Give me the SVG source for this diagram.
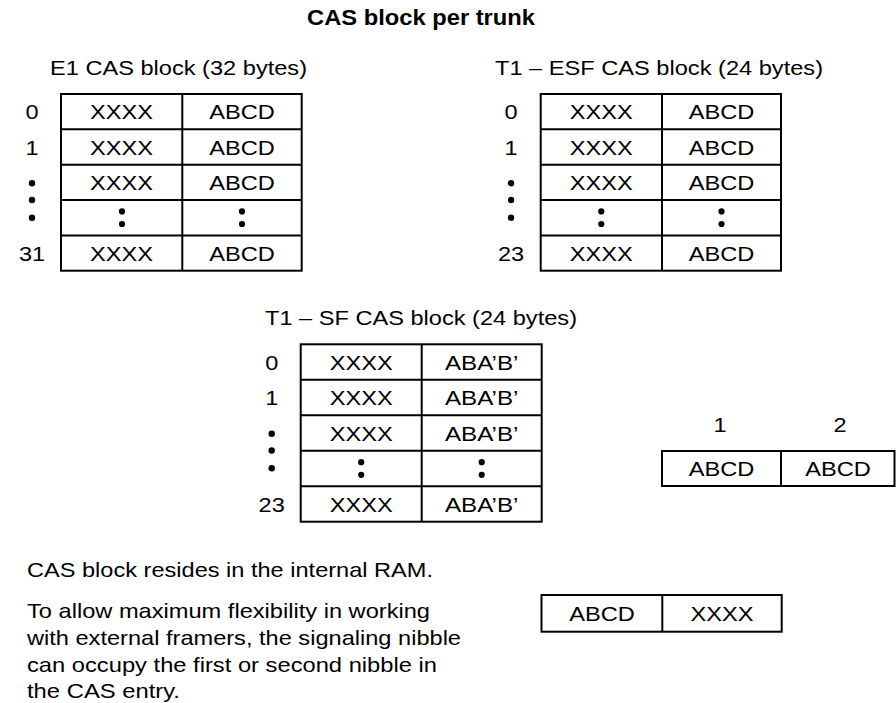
<svg xmlns="http://www.w3.org/2000/svg" width="896" height="703" viewBox="0 0 896 703">
<style>
text{font-family:"Liberation Sans",Arial,Helvetica,sans-serif;font-size:21px;fill:#000}
.t{font-weight:bold;font-size:22px}
.m{text-anchor:middle}
.box{fill:#fff;stroke:#000;stroke-width:2}
.ln{stroke:#000;stroke-width:2;fill:none}
.dot{fill:#000}
</style>
<defs>
<g id="dots3"><circle class="dot" cx="0" cy="-16.8" r="3.2"/><circle class="dot" cx="0" cy="0" r="3.2"/><circle class="dot" cx="0" cy="17.7" r="3.2"/></g>
<g id="colon"><circle class="dot" cx="0" cy="-6.3" r="3.1"/><circle class="dot" cx="0" cy="6.3" r="3.1"/></g>
</defs>
<rect width="896" height="703" fill="#fff"/>
<text class="t" x="307" y="25" textLength="228" lengthAdjust="spacingAndGlyphs">CAS block per trunk</text>

<g id="e1">
<text x="50" y="75" textLength="257" lengthAdjust="spacingAndGlyphs">E1 CAS block (32 bytes)</text>
<rect class="box" x="61" y="94" width="240.7" height="176.7"/>
<path class="ln" d="M182.3 94V270.7M61 129.3H301.7M61 164.7H301.7M61 200H301.7M61 235.4H301.7"/>
<text class="m" x="32" y="119.2" textLength="13.1" lengthAdjust="spacingAndGlyphs">0</text>
<text class="m" x="32" y="154.5" textLength="13.1" lengthAdjust="spacingAndGlyphs">1</text>
<use href="#dots3" x="32" y="200"/>
<text class="m" x="32" y="260.5" textLength="26.2" lengthAdjust="spacingAndGlyphs">31</text>
<g class="m">
<text x="121.6" y="119.2" textLength="63" lengthAdjust="spacingAndGlyphs">XXXX</text>
<text x="242" y="119.2" textLength="65.6" lengthAdjust="spacingAndGlyphs">ABCD</text>
<text x="121.6" y="154.5" textLength="63" lengthAdjust="spacingAndGlyphs">XXXX</text>
<text x="242" y="154.5" textLength="65.6" lengthAdjust="spacingAndGlyphs">ABCD</text>
<text x="121.6" y="189.9" textLength="63" lengthAdjust="spacingAndGlyphs">XXXX</text>
<text x="242" y="189.9" textLength="65.6" lengthAdjust="spacingAndGlyphs">ABCD</text>
<text x="121.6" y="260.5" textLength="63" lengthAdjust="spacingAndGlyphs">XXXX</text>
<text x="242" y="260.5" textLength="65.6" lengthAdjust="spacingAndGlyphs">ABCD</text>
</g>
<use href="#colon" x="122" y="217.7"/>
<use href="#colon" x="242" y="217.7"/>
</g>

<g id="esf">
<text x="495" y="75" textLength="328" lengthAdjust="spacingAndGlyphs">T1 – ESF CAS block (24 bytes)</text>
<rect class="box" x="540.7" y="94" width="240.3" height="176.7"/>
<path class="ln" d="M662 94V270.7M540.7 129.3H781M540.7 164.7H781M540.7 200H781M540.7 235.4H781"/>
<text class="m" x="511" y="119.2" textLength="13.1" lengthAdjust="spacingAndGlyphs">0</text>
<text class="m" x="511" y="154.5" textLength="13.1" lengthAdjust="spacingAndGlyphs">1</text>
<use href="#dots3" x="511" y="200"/>
<text class="m" x="511" y="260.5" textLength="26.2" lengthAdjust="spacingAndGlyphs">23</text>
<g class="m">
<text x="601.3" y="119.2" textLength="63" lengthAdjust="spacingAndGlyphs">XXXX</text>
<text x="721.5" y="119.2" textLength="65.6" lengthAdjust="spacingAndGlyphs">ABCD</text>
<text x="601.3" y="154.5" textLength="63" lengthAdjust="spacingAndGlyphs">XXXX</text>
<text x="721.5" y="154.5" textLength="65.6" lengthAdjust="spacingAndGlyphs">ABCD</text>
<text x="601.3" y="189.9" textLength="63" lengthAdjust="spacingAndGlyphs">XXXX</text>
<text x="721.5" y="189.9" textLength="65.6" lengthAdjust="spacingAndGlyphs">ABCD</text>
<text x="601.3" y="260.5" textLength="63" lengthAdjust="spacingAndGlyphs">XXXX</text>
<text x="721.5" y="260.5" textLength="65.6" lengthAdjust="spacingAndGlyphs">ABCD</text>
</g>
<use href="#colon" x="601.3" y="217.7"/>
<use href="#colon" x="721.5" y="217.7"/>
</g>

<g id="sf">
<text x="265" y="325.3" textLength="312" lengthAdjust="spacingAndGlyphs">T1 – SF CAS block (24 bytes)</text>
<rect class="box" x="300.7" y="344.3" width="241" height="177.4"/>
<path class="ln" d="M421.7 344.3V521.7M300.7 379.8H541.7M300.7 415.3H541.7M300.7 450.8H541.7M300.7 486.2H541.7"/>
<text class="m" x="271.7" y="369.6" textLength="13.1" lengthAdjust="spacingAndGlyphs">0</text>
<text class="m" x="271.7" y="405.1" textLength="13.1" lengthAdjust="spacingAndGlyphs">1</text>
<use href="#dots3" x="271.7" y="450.5"/>
<text class="m" x="271.7" y="511.5" textLength="26.2" lengthAdjust="spacingAndGlyphs">23</text>
<g class="m">
<text x="361.2" y="369.6" textLength="63" lengthAdjust="spacingAndGlyphs">XXXX</text>
<text x="481.7" y="369.6" textLength="73.4" lengthAdjust="spacingAndGlyphs">ABA’B’</text>
<text x="361.2" y="405.1" textLength="63" lengthAdjust="spacingAndGlyphs">XXXX</text>
<text x="481.7" y="405.1" textLength="73.4" lengthAdjust="spacingAndGlyphs">ABA’B’</text>
<text x="361.2" y="440.6" textLength="63" lengthAdjust="spacingAndGlyphs">XXXX</text>
<text x="481.7" y="440.6" textLength="73.4" lengthAdjust="spacingAndGlyphs">ABA’B’</text>
<text x="361.2" y="511.5" textLength="63" lengthAdjust="spacingAndGlyphs">XXXX</text>
<text x="481.7" y="511.5" textLength="73.4" lengthAdjust="spacingAndGlyphs">ABA’B’</text>
</g>
<use href="#colon" x="361.2" y="468.5"/>
<use href="#colon" x="481.7" y="468.5"/>
</g>

<g id="pair">
<text class="m" x="720" y="432" textLength="13.1" lengthAdjust="spacingAndGlyphs">1</text>
<text class="m" x="840" y="432" textLength="13.1" lengthAdjust="spacingAndGlyphs">2</text>
<rect class="box" x="662" y="451" width="232.5" height="35"/>
<path class="ln" d="M781 451V486"/>
<text class="m" x="721.5" y="476" textLength="65.6" lengthAdjust="spacingAndGlyphs">ABCD</text>
<text class="m" x="838" y="476" textLength="65.6" lengthAdjust="spacingAndGlyphs">ABCD</text>
</g>

<g id="notes">
<text x="27" y="577" textLength="406" lengthAdjust="spacingAndGlyphs">CAS block resides in the internal RAM.</text>
<text x="27" y="618.3" textLength="403" lengthAdjust="spacingAndGlyphs">To allow maximum flexibility in working</text>
<text x="27" y="645" textLength="434" lengthAdjust="spacingAndGlyphs">with external framers, the signaling nibble</text>
<text x="27" y="671.7" textLength="410" lengthAdjust="spacingAndGlyphs">can occupy the first or second nibble in</text>
<text x="27" y="698" textLength="153" lengthAdjust="spacingAndGlyphs">the CAS entry.</text>
</g>

<g id="swap">
<rect class="box" x="541.5" y="595" width="240.2" height="36.7"/>
<path class="ln" d="M662.3 595V631.7"/>
<text class="m" x="602" y="621" textLength="65.6" lengthAdjust="spacingAndGlyphs">ABCD</text>
<text class="m" x="722" y="621" textLength="63" lengthAdjust="spacingAndGlyphs">XXXX</text>
</g>
</svg>
